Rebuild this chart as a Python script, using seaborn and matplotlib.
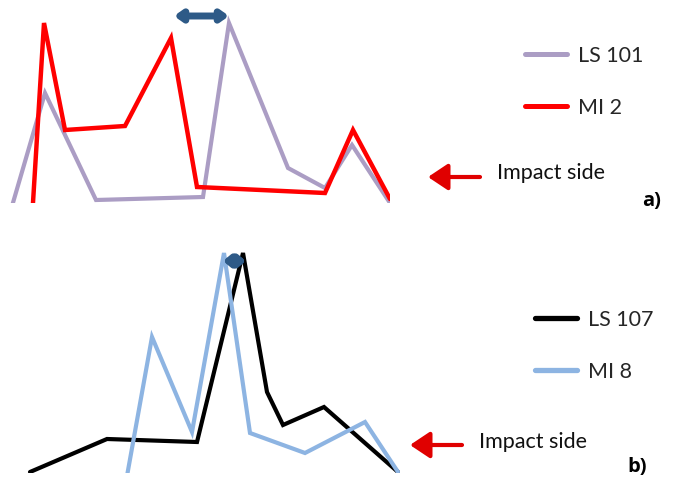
import numpy as np
import pandas as pd
import matplotlib
matplotlib.use("Agg")
import matplotlib.pyplot as plt
from matplotlib.patches import FancyArrowPatch
import seaborn as sns

# panel a) profiles (position along section, relative value)
ls101_x = [10, 45, 96, 203, 229, 288, 325, 352, 390]
ls101_y = [-10, 110, 3, 6, 180, 35, 15, 58, 0]
mi2_x = [32, 44, 65, 125, 171, 197, 325, 353, 390]
mi2_y = [-16, 180, 73, 77, 165, 16, 10, 73, 4]

# panel b) profiles
ls107_x = [30, 107, 197, 243, 267, 283, 324, 398]
ls107_y = [1, 34, 31, 220, 81, 48, 66, 1]
mi8_x = [127, 152, 192, 224, 250, 305, 365, 398]
mi8_y = [-3, 136, 41, 220, 40, 20, 51, 1]

# extent of the highlighted zone (double arrow)
span_a = [174, 229]
span_b = [223, 246]

W, H = 674, 479
sns.set_theme(style="white")
plt.rcParams['font.family'] = ['Lato', 'DejaVu Sans']

fig = plt.figure(figsize=(W / 100, H / 100), dpi=100)
fig.patch.set_facecolor("white")


def fx(px):
    return px / W


def fy(py):
    return 1 - py / H


def panel(rect, xlim, ylim, names, xs, ys, colors, widths):
    ax = fig.add_axes(rect)
    frames = []
    for n, x, y in zip(names, xs, ys):
        frames.append(pd.DataFrame({"x": x, "y": y, "sample": n}))
    df = pd.concat(frames, ignore_index=True)
    sns.lineplot(data=df, x="x", y="y", hue="sample", palette=colors,
                 sort=False, ax=ax, legend=True)
    for line, lw in zip(ax.get_lines(), widths):
        line.set_linewidth(lw)
        line.set_solid_joinstyle("miter")
    ax.set_xlim(*xlim)
    ax.set_ylim(*ylim)
    ax.set_axis_off()
    return ax


def add_legend(ax, x0, y0, lw):
    h, l = ax.get_legend_handles_labels()
    for hh in h:
        hh.set_linewidth(lw)
    ax.legend(h, l, loc="upper left", bbox_to_anchor=(fx(x0), fy(y0)),
              bbox_transform=fig.transFigure, frameon=False, fontsize=15.5,
              handlelength=1.95, handletextpad=0.5, labelspacing=1.48,
              borderaxespad=0, borderpad=0)


# ---- panel a
ax1 = panel([0, fy(203), fx(390), 205 / H], (0, 390), (0, 205),
            ["LS 101", "MI 2"], [ls101_x, mi2_x], [ls101_y, mi2_y],
            ["#ab9dc4", "#ff0000"], [3.0, 3.2])
add_legend(ax1, 525, 46, 3.6)
ax1.annotate("", xy=(span_a[0], 187), xytext=(span_a[1], 187),
             arrowprops=dict(arrowstyle="<|-|>,head_length=0.35,head_width=0.25",
                             color="#2e5a87", lw=5, shrinkA=0, shrinkB=0),
             annotation_clip=False)

# ---- panel b
ax2 = panel([fx(0), fy(473), fx(400), 240 / H], (0, 400), (0, 240),
            ["LS 107", "MI 8"], [ls107_x, mi8_x], [ls107_y, mi8_y],
            ["#000000", "#8db4e2"], [3.0, 3.0])
add_legend(ax2, 535, 310, 3.8)
ax2.annotate("", xy=(span_b[0], 212), xytext=(span_b[1], 212),
             arrowprops=dict(arrowstyle="<|-|>,head_length=0.3,head_width=0.25",
                             color="#2e5a87", lw=5, shrinkA=0, shrinkB=0),
             annotation_clip=False)

# impact side markers
for (ax0, ay, tx, ty, lab, lx, ly) in [(428, 177, 497, 173, "a)", 642, 201),
                                        (410, 445, 479, 442, "b)", 627, 467)]:
    arr = FancyArrowPatch((fx(ax0 + 52), fy(ay)), (fx(ax0), fy(ay)),
                          transform=fig.transFigure, shrinkA=0, shrinkB=0,
                          arrowstyle="-|>,head_length=0.75,head_width=0.5",
                          mutation_scale=16, color="#e00000", lw=3)
    fig.add_artist(arr)
    fig.text(fx(tx), fy(ty), "Impact side", fontsize=15.5, va="center",
             ha="left", color="#111111")
    fig.text(fx(lx), fy(ly), lab, fontsize=14.5, fontweight="bold",
             family=["Open Sans", "DejaVu Sans"],
             va="center", ha="left", color="black")

fig.savefig("out.png", dpi=100, facecolor="white")
